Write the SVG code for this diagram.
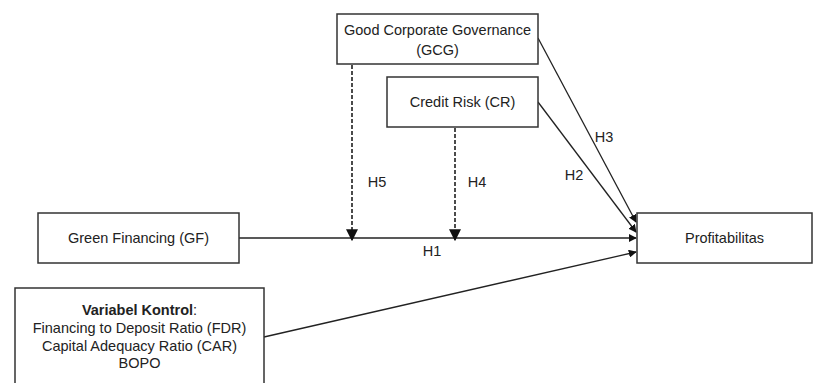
<svg xmlns="http://www.w3.org/2000/svg" width="824" height="383" viewBox="0 0 824 383">
<defs>
<style>
.box{fill:#fff;stroke:#333;stroke-width:1.5}
.t{font-family:"Liberation Sans",Arial,sans-serif;font-size:14.5px;fill:#222;text-anchor:middle}
.lbl{font-family:"Liberation Sans",Arial,sans-serif;font-size:14.5px;fill:#222;text-anchor:middle}
.c{stroke:#222;stroke-width:1.3;fill:none}
.d{stroke:#111;stroke-width:1.5;fill:none;stroke-dasharray:4 2}
</style>
<marker id="a" viewBox="0 0 10 10" refX="9" refY="5" markerWidth="8" markerHeight="8" markerUnits="userSpaceOnUse" orient="auto"><path d="M0,0 L10,5 L0,10 z" fill="#111"/></marker>
<marker id="b" viewBox="0 0 10 10" refX="9" refY="5" markerWidth="12" markerHeight="12" markerUnits="userSpaceOnUse" orient="auto"><path d="M0,0 L10,5 L0,10 z" fill="#111"/></marker>
</defs>
<rect width="824" height="383" fill="#fff"/>
<g id="connectors">
<line class="c" x1="239" y1="238" x2="636" y2="238" marker-end="url(#a)"/>
<line class="c" x1="538" y1="38" x2="636" y2="222" marker-end="url(#a)"/>
<line class="c" x1="538" y1="102" x2="636" y2="232" marker-end="url(#a)"/>
<line class="c" x1="264" y1="337" x2="636" y2="252" marker-end="url(#a)"/>
<line class="d" x1="352" y1="65" x2="352" y2="240" marker-end="url(#b)"/>
<line class="d" x1="455" y1="128" x2="455" y2="240" marker-end="url(#b)"/>
<text class="lbl" x="432" y="256">H1</text>
<text class="lbl" x="574" y="180">H2</text>
<text class="lbl" x="604" y="142">H3</text>
<text class="lbl" x="477" y="187">H4</text>
<text class="lbl" x="377" y="187">H5</text>
</g>
<g id="gcg">
<rect class="box" x="337" y="14" width="201" height="50"/>
<text class="t" x="437.5" y="35">Good Corporate Governance</text>
<text class="t" x="437.5" y="55">(GCG)</text>
</g>
<g id="cr">
<rect class="box" x="387" y="77" width="151" height="50"/>
<text class="t" x="462.5" y="107">Credit Risk (CR)</text>
</g>
<g id="gf">
<rect class="box" x="38" y="213" width="201" height="50"/>
<text class="t" x="138.5" y="243">Green Financing (GF)</text>
</g>
<g id="profit">
<rect class="box" x="637" y="213" width="175" height="50"/>
<text class="t" x="724.5" y="243">Profitabilitas</text>
</g>
<g id="kontrol">
<rect class="box" x="15" y="288" width="249" height="110"/>
<text class="t" x="139.5" y="315"><tspan font-weight="bold">Variabel Kontrol</tspan>:</text>
<text class="t" x="139.5" y="333">Financing to Deposit Ratio (FDR)</text>
<text class="t" x="139.5" y="351">Capital Adequacy Ratio (CAR)</text>
<text class="t" x="139.5" y="368">BOPO</text>
</g>
</svg>
